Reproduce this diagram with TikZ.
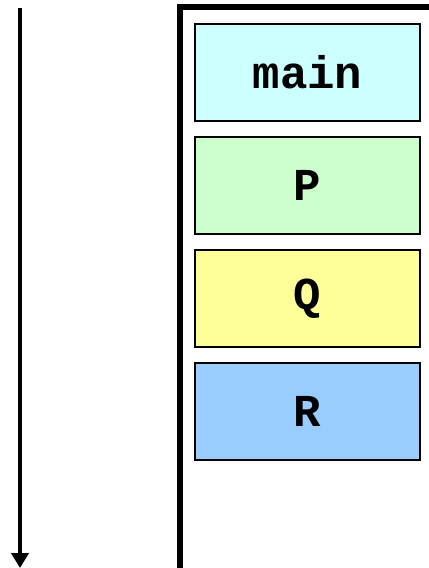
\documentclass[tikz,border=0pt]{standalone}
\usepackage{fontspec}
\setmonofont{Liberation Mono}
\usetikzlibrary{arrows.meta}

\begin{document}
\begin{tikzpicture}[x=0.02cm,y=-0.02cm,node distance=2.26cm,>={Triangle[length=0.3cm,width=0.34cm]}]
  \tikzstyle{frame}=[line width=3.2pt]
  \tikzstyle{frm}=[rectangle,draw=black,line width=1.5pt,minimum width=4.5cm,
        minimum height=1.94cm,font=\fontsize{26}{30}\selectfont\ttfamily\bfseries]
    \useasboundingbox (0,0) rectangle (429,568);
    \node [frm,fill={rgb,255:red,204;green,255;blue,255}] (main) at (307.5,72.5) {main};
    \node [frm,fill={rgb,255:red,204;green,255;blue,204}] (p) [below of=main] {P};
    \node [frm,fill={rgb,255:red,255;green,255;blue,153}] (q) [below of=p] {Q};
    \node [frm,fill={rgb,255:red,153;green,204;blue,255}] (r) [below of=q] {R};
    \coordinate (top) at (20,8);
    \coordinate (bot) at (20,568);
    \draw [->,line width=2.8pt] (top) -- (bot);
    \coordinate (f1) at (180,568);
    \coordinate (f2) at (180,7);
    \coordinate (f3) at (429,7);
    \draw [frame] (f1) -- (f2) -- (f3);
\end{tikzpicture}
\end{document}
